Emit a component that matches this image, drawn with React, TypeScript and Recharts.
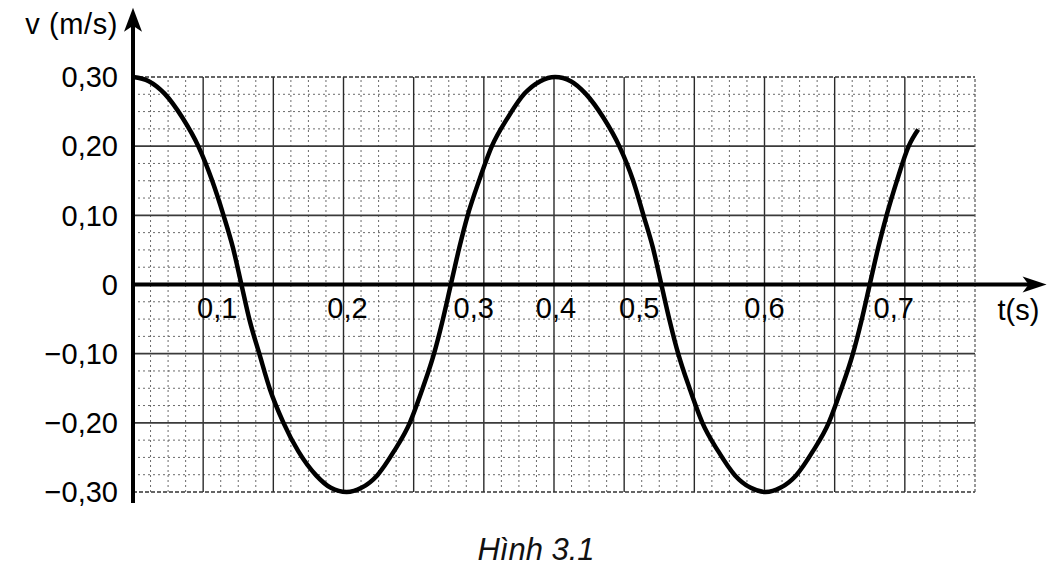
import React from 'react';
import { LineChart, Line, XAxis, YAxis, ReferenceLine, ReferenceDot } from 'recharts';

// ---- data ----
const timeS = [
  0, 0.015, 0.03, 0.047, 0.062, 0.075, 0.086, 0.095, 0.103,
  0.111, 0.12, 0.13, 0.143, 0.157, 0.174, 0.188, 0.203,
  0.217, 0.232, 0.248, 0.263, 0.275, 0.286, 0.294, 0.302,
  0.31, 0.318, 0.329, 0.341, 0.356, 0.372, 0.387, 0.401,
  0.416, 0.43, 0.447, 0.462, 0.475, 0.485, 0.494, 0.502,
  0.51, 0.518, 0.529, 0.541, 0.556, 0.572, 0.587, 0.601,
  0.615, 0.63, 0.646, 0.661, 0.673, 0.684, 0.692, 0.7,
  0.708, 0.716, 0.726, 0.737, 0.746,
];
const velocity = [
  0.3, 0.294, 0.276, 0.241, 0.2, 0.151, 0.1, 0.053, 0,
  -0.053, -0.1, -0.151, -0.2, -0.241, -0.276, -0.294, -0.3,
  -0.294, -0.276, -0.241, -0.2, -0.151, -0.1, -0.053, 0,
  0.053, 0.1, 0.151, 0.2, 0.241, 0.276, 0.294, 0.3,
  0.294, 0.276, 0.241, 0.2, 0.151, 0.1, 0.053, 0,
  -0.053, -0.1, -0.151, -0.2, -0.241, -0.276, -0.294, -0.3,
  -0.294, -0.276, -0.241, -0.2, -0.151, -0.1, -0.053, 0,
  0.053, 0.1, 0.151, 0.2, 0.224,
];

const xTicks = [0.1, 0.2, 0.3, 0.4, 0.5, 0.6, 0.7];
const xTickLabels = ['0,1', '0,2', '0,3', '0,4', '0,5', '0,6', '0,7'];
const yTicks = [-0.3, -0.2, -0.1, 0, 0.1, 0.2, 0.3];
const yTickLabels = ['\u22120,30', '\u22120,20', '\u22120,10', '0', '0,10', '0,20', '0,30'];

const yAxisTitle = 'v (m/s)';
const xAxisTitle = 't(s)';
const caption = 'Hình 3.1';

// grid (graph paper) definition
const T_MAX = 0.8;
const V_MIN = -0.3;
const V_MAX = 0.3;
const X_MAJOR_STEP = 1 / 15;
const X_MINOR_PER_MAJOR = 4;
const Y_MAJOR_STEP = 0.1;
const Y_MINOR_PER_MAJOR = 4;

const xMajor = Array.from({ length: 11 }, (_, i) => (i + 1) * X_MAJOR_STEP);
const xMinor = Array.from({ length: 12 * X_MINOR_PER_MAJOR }, (_, i) => i * X_MAJOR_STEP / X_MINOR_PER_MAJOR)
  .filter((_, i) => i % X_MINOR_PER_MAJOR !== 0);
const yMajor = [-0.2, -0.1, 0.1, 0.2];
const yMinor = Array.from({ length: 6 * Y_MINOR_PER_MAJOR }, (_, i) => V_MIN + i * Y_MAJOR_STEP / Y_MINOR_PER_MAJOR)
  .filter((_, i) => i % Y_MINOR_PER_MAJOR !== 0);

// axis extents beyond the grid (for arrows)
const Y_AXIS_BOTTOM = -0.316;
const Y_AXIS_TOP = 0.40;
const X_AXIS_RIGHT = 0.868;

const data = timeS.map((t, i) => ({ t, v: velocity[i] }));

const FONT = '"Liberation Sans", Arial, Helvetica, sans-serif';
const LABEL_NUDGE = [-21, 4, 25, 2, -20, 0, 24];

const yAxisShape = (p: any) => {
  const tipY = Math.min(p.y1, p.y2);
  const baseY = Math.max(p.y1, p.y2);
  const x = p.x1;
  const len = 24, hw = 9;
  return (
    <g>
      <line x1={x} y1={baseY} x2={x} y2={tipY + 12} stroke="#000" strokeWidth={4} />
      <path d={`M${x},${tipY} L${x + hw},${tipY + len} L${x},${tipY + len - 6} L${x - hw},${tipY + len} Z`} fill="#000" />
      <text x={x - 15} y={tipY + 26} textAnchor="end" fontSize={29} letterSpacing={0.6} fontFamily={FONT} fill="#000">{yAxisTitle}</text>
    </g>
  );
};

const xAxisShape = (p: any) => {
  const tipX = Math.max(p.x1, p.x2);
  const startX = Math.min(p.x1, p.x2);
  const y = p.y1;
  const len = 24, hw = 8;
  return (
    <g>
      <line x1={startX} y1={y} x2={tipX - 12} y2={y} stroke="#000" strokeWidth={4} />
      <path d={`M${tipX},${y} L${tipX - len},${y - hw} L${tipX - len + 6},${y} L${tipX - len},${y + hw} Z`} fill="#000" />
      <text x={tipX - 49} y={y + 35} textAnchor="start" fontSize={29} fontFamily={FONT} fill="#000">{xAxisTitle}</text>
    </g>
  );
};

const makeTickLabel = (i: number) => (p: any) => (
  <text x={p.cx + LABEL_NUDGE[i]} y={p.cy + 33} textAnchor="middle" fontSize={29} fontFamily={FONT} fill="#000">
    {xTickLabels[i]}
  </text>
);

export default function App() {
  return (
    <div style={{ position: 'absolute', left: 0, top: 0, width: 1060, height: 572, background: '#fff', fontFamily: FONT }}>
      <LineChart width={1060} height={572} data={data} margin={{ top: 77, right: 85, bottom: 80, left: 73 }}>
        <XAxis type="number" dataKey="t" domain={[0, T_MAX]} hide allowDataOverflow />
        <YAxis
          type="number"
          domain={[V_MIN, V_MAX]}
          ticks={yTicks}
          interval={0}
          width={60}
          axisLine={false}
          tickLine={false}
          tickSize={0}
          tickMargin={15}
          tickFormatter={(v: number) => yTickLabels[yTicks.findIndex((y) => Math.abs(y - v) < 1e-9)] ?? ''}
          tick={{ fontSize: 29, fill: '#000', fontFamily: FONT }}
        />
        {xMinor.map((x) => (
          <ReferenceLine key={'xm' + x} x={x} stroke="#6a6a6a" strokeWidth={1} strokeDasharray="2 3" />
        ))}
        {yMinor.map((y) => (
          <ReferenceLine key={'ym' + y} y={y} stroke="#6a6a6a" strokeWidth={1} strokeDasharray="2 3" />
        ))}
        {xMajor.map((x) => (
          <ReferenceLine key={'xM' + x} x={x} stroke="#2a2a2a" strokeWidth={1.4} />
        ))}
        {yMajor.map((y) => (
          <ReferenceLine key={'yM' + y} y={y} stroke="#3a3a3a" strokeWidth={1.6} />
        ))}
        <ReferenceLine y={V_MAX} stroke="#333" strokeWidth={1.4} strokeDasharray="4 2" />
        <ReferenceLine y={V_MIN} stroke="#333" strokeWidth={1.4} strokeDasharray="4 2" />
        <ReferenceLine x={T_MAX} stroke="#555" strokeWidth={1.2} strokeDasharray="3 2" />
        <Line
          type="monotone"
          dataKey="v"
          stroke="#000"
          strokeWidth={4.5}
          dot={false}
          activeDot={false}
          isAnimationActive={false}
        />
        <ReferenceLine
          segment={[{ x: 0, y: 0 }, { x: X_AXIS_RIGHT, y: 0 }]}
          ifOverflow="visible"
          shape={xAxisShape}
        />
        <ReferenceLine
          segment={[{ x: 0, y: Y_AXIS_BOTTOM }, { x: 0, y: Y_AXIS_TOP }]}
          ifOverflow="visible"
          shape={yAxisShape}
        />
        {xTicks.map((t, i) => (
          <ReferenceDot key={'xt' + t} x={t} y={0} r={0} ifOverflow="visible" shape={makeTickLabel(i)} />
        ))}
      </LineChart>
      <div
        style={{
          position: 'absolute',
          left: 0,
          top: 534,
          width: 1072,
          textAlign: 'center',
          fontSize: 31,
          lineHeight: '31px',
          fontStyle: 'italic',
          color: '#111',
          fontFamily: FONT,
        }}
      >
        {caption}
      </div>
    </div>
  );
}
